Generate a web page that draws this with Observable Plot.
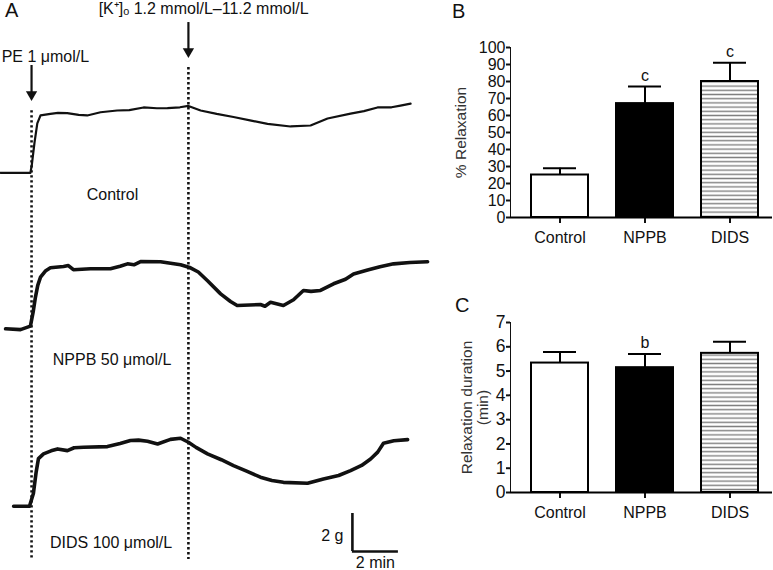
<!DOCTYPE html>
<html>
<head>
<meta charset="utf-8">
<script src="https://cdn.jsdelivr.net/npm/d3@7"></script>
<script src="https://cdn.jsdelivr.net/npm/@observablehq/plot@0.6"></script>
<style>
  body { margin: 0; background: #fff; }
  #wrap { position: relative; width: 773px; height: 570px; overflow: hidden; font-family: "Liberation Sans", Arial, sans-serif; color: #111; }
  .panel { position: absolute; }
  .plabel { position: absolute; font-size: 20px; line-height: 20px; }
  .bars [aria-label^="x-axis"] line, .bars [aria-label^="x-axis"] path,
  .bars [aria-label^="y-axis"] line, .bars [aria-label^="y-axis"] path,
  .bars [aria-label="frame"] line { stroke-width: 2px; stroke: #111; }
  .bars [aria-label^="x-axis"] text { font-size: 16px; fill: #111; }
  #panelB [aria-label^="y-axis"] text { font-size: 16px; fill: #111; }
  #panelC [aria-label^="y-axis"] text { font-size: 17.5px; fill: #111; }
</style>
</head>
<body>
<svg width="0" height="0" style="position:absolute">
  <defs>
    <pattern id="hstripes" patternUnits="userSpaceOnUse" width="8" height="4.2">
      <rect width="8" height="4.2" fill="#fff"></rect>
      <rect y="1.4" width="8" height="1.4" fill="#808080"></rect>
    </pattern>
  </defs>
</svg>
<div id="wrap">
  <div id="panelA" class="panel" style="left:0;top:0"></div>
  <div id="panelB" class="panel bars" style="left:430px;top:0"></div>
  <div id="panelC" class="panel bars" style="left:430px;top:290px"></div>
  <div class="plabel" style="left:5px;top:0px">A</div>
  <div class="plabel" style="left:452px;top:1px">B</div>
  <div class="plabel" style="left:455px;top:295px">C</div>
</div>
<script>
// ---------- Panel A: isometric tension traces (time in min, tension in g above each baseline) ----------
const controlTrace = [[0,0],[1.30,0],[1.36,0.4],[1.48,1.6],[1.60,2.6],[1.74,3.02],[2.17,3.10],[2.50,3.16],[2.90,3.14],[3.40,3.05],[3.77,3.02],[4.35,3.19],[5.07,3.28],[5.60,3.30],[6.22,3.44],[6.80,3.40],[7.26,3.41],[7.80,3.45],[8.17,3.52],[8.70,3.28],[9.40,3.10],[10.13,2.94],[10.90,2.75],[11.61,2.58],[12.61,2.44],[13.48,2.49],[14.22,2.86],[15.22,3.12],[15.80,3.25],[16.39,3.44],[17.00,3.45],[17.39,3.54],[17.83,3.64]];
const nppbTrace = [[0.22,0.01],[0.87,-0.03],[1.30,0.15],[1.42,0.9],[1.52,1.68],[1.62,2.3],[1.74,2.73],[1.95,3.05],[2.17,3.22],[2.74,3.29],[2.95,3.34],[3.17,3.12],[3.91,3.17],[4.78,3.17],[5.20,3.30],[5.52,3.43],[5.80,3.38],[6.09,3.55],[6.96,3.54],[7.83,3.38],[8.26,3.22],[8.60,3.00],[8.99,2.55],[9.57,1.85],[10.0,1.45],[10.29,1.24],[11.30,1.29],[11.50,1.20],[11.74,1.41],[12.30,1.24],[12.74,1.54],[13.17,2.03],[13.50,1.98],[13.91,2.03],[14.48,2.38],[15.00,2.62],[15.35,2.90],[15.96,3.11],[16.50,3.28],[17.09,3.43],[17.80,3.50],[18.57,3.54]];
const didsTrace = [[0.57,0],[1.26,0],[1.43,0.67],[1.55,1.8],[1.65,2.51],[1.87,2.76],[2.20,2.92],[2.48,3.02],[2.91,2.93],[3.20,3.08],[3.61,3.11],[4.65,3.14],[5.20,3.30],[5.65,3.46],[6.00,3.48],[6.39,3.42],[6.83,3.28],[7.39,3.52],[7.83,3.58],[8.17,3.37],[8.50,3.10],[9.00,2.76],[9.60,2.45],[10.13,2.14],[10.70,1.85],[11.30,1.53],[11.80,1.36],[12.30,1.26],[13.35,1.21],[14.04,1.44],[14.70,1.62],[15.22,1.88],[15.70,2.15],[16.09,2.49],[16.40,2.85],[16.65,3.32],[17.10,3.45],[17.70,3.51]];
const traceNames = ["Control", "NPPB 50 μmol/L", "DIDS 100 μmol/L"];
const traceBaselines = [20.93, 12.71, 3.38];          // g, vertical offset of each recording
const traceLabelAt = [[4.87, 19.79], [4.85, 11.11], [4.81, 1.45]]; // [min, g]
const eventNames = ["PE 1 μmol/L", "[K⁺]ₒ 1.2 mmol/L–11.2 mmol/L"];
const eventTimes = [1.35, 8.17];                       // min
const eventArrowTop = [26.58, 28.84];                  // g
const eventArrowTip = [24.74, 27.0];                   // g
const eventDotTop = [24.2, 26.47];                     // g
const eventDotBottom = 0.58;                           // g
const eventLabelAt = [[0.05, 27.05], [8.83, 29.55]];   // [min, g]
const scaleBarOrigin = [15.30, 1.0];                   // [min, g]
const scaleBarMin = 2, scaleBarG = 2;

// ---------- Panels B & C: bar data ----------
const groups = ["Control", "NPPB", "DIDS"];
const relaxMean = [25, 67, 80];
const relaxErr = [4, 10, 11];
const relaxSig = ["", "c", "c"];
const relaxTicks = [0,10,20,30,40,50,60,70,80,90,100];
const durMean = [5.33, 5.14, 5.73];
const durErr = [0.46, 0.56, 0.48];
const durSig = ["", "b", ""];
const durTicks = [0,1,2,3,4,5,6,7];

const FONT = "Liberation Sans, Arial, sans-serif";

function toRows(trace, i) {
  return trace.map(([t, g]) => ({t, g: g + traceBaselines[i]}));
}
const events = eventNames.map((name, i) => ({name, t: eventTimes[i], top: eventArrowTop[i], tip: eventArrowTip[i], dtop: eventDotTop[i], lx: eventLabelAt[i][0], ly: eventLabelAt[i][1]}));
const labels = traceNames.map((name, i) => ({name, t: traceLabelAt[i][0], g: traceLabelAt[i][1]}));

const A = Plot.plot({
  width: 440, height: 570,
  marginLeft: 0, marginRight: 0, marginTop: 0, marginBottom: 0,
  style: {fontFamily: FONT, fontSize: "16px", color: "#111", background: "transparent", overflow: "visible"},
  x: {domain: [0, 19.13], axis: null},
  y: {domain: [0, 30], axis: null},
  marks: [
    Plot.ruleX(events, {x: "t", y1: "dtop", y2: eventDotBottom, stroke: "#111", strokeWidth: 2.6, strokeDasharray: "2.4,2.6"}),
    Plot.line(toRows(controlTrace, 0), {x: "t", y: "g", stroke: "#111", strokeWidth: 2.2, strokeLinejoin: "round"}),
    Plot.line(toRows(nppbTrace, 1), {x: "t", y: "g", stroke: "#111", strokeWidth: 3.6, strokeLinejoin: "round"}),
    Plot.line(toRows(didsTrace, 2), {x: "t", y: "g", stroke: "#111", strokeWidth: 3.6, strokeLinejoin: "round"}),
    Plot.ruleX(events, {x: "t", y1: "top", y2: d => d.tip + 0.3, stroke: "#111", strokeWidth: 2.2}),
    Plot.dot(events, {x: "t", y: "tip", symbol: "triangle", rotate: 180, r: 4.2, fill: "#111", stroke: "none", dy: -6}),
    Plot.text(events.slice(0, 1), {x: "lx", y: "ly", text: "name", textAnchor: "start", fontSize: 16, fill: "#111"}),
    Plot.text(events.slice(1), {x: "lx", y: "ly", text: "name", textAnchor: "middle", fontSize: 16, fill: "#111"}),
    Plot.text(labels, {x: "t", y: "g", text: "name", fontSize: 16, fill: "#111"}),
    Plot.ruleX([scaleBarOrigin], {x: d => d[0], y1: d => d[1], y2: d => d[1] + scaleBarG, stroke: "#111", strokeWidth: 2.6}),
    Plot.ruleY([scaleBarOrigin], {y: d => d[1], x1: d => d[0], x2: d => d[0] + scaleBarMin, stroke: "#111", strokeWidth: 2.6}),
    Plot.text([scaleBarOrigin], {x: d => d[0], y: d => d[1] + scaleBarG / 2, text: () => `${scaleBarG} g`, textAnchor: "end", dx: -9, dy: 3, fontSize: 16, fill: "#111"}),
    Plot.text([scaleBarOrigin], {x: d => d[0] + scaleBarMin / 2, y: d => d[1], text: () => `${scaleBarMin} min`, dy: 11, fontSize: 16, fill: "#111"})
  ]
});
document.getElementById("panelA").appendChild(A);

const fillFor = {Control: "#fff", NPPB: "#000", DIDS: "url(#hstripes)"};

function barPanel({means, errs, sig, yMax, ticks, ylabel, height, marginTop, marginBottom, labelDx}) {
  const data = groups.map((g, i) => ({group: g, mean: means[i], top: means[i] + errs[i], sig: sig[i]}));
  return Plot.plot({
    width: 343, height,
    marginLeft: 80, marginRight: 1, marginTop, marginBottom,
    style: {fontFamily: FONT, fontSize: "16px", color: "#111", background: "transparent", overflow: "visible"},
    x: {domain: groups, range: [86, 342], paddingInner: 0.33, paddingOuter: 0.165, tickSize: 6, tickPadding: 8, label: null},
    y: {domain: [0, yMax], ticks, tickFormat: d3.format("d"), tickSize: 4, tickPadding: 1, label: null, line: true},
    marks: [
      Plot.ruleX(data, {x: "group", y1: "mean", y2: "top", stroke: "#000", strokeWidth: 2}),
      Plot.tickY(data, {x: "group", y: "top", insetLeft: 12, insetRight: 12, stroke: "#000", strokeWidth: 2}),
      ...groups.map(g => Plot.barY(data.filter(d => d.group === g), {x: "group", y: "mean", fill: fillFor[g], stroke: "#000", strokeWidth: 2})),
      Plot.ruleY([0], {stroke: "#000", strokeWidth: 2}),
      Plot.text(data.filter(d => d.sig), {x: "group", y: "top", text: "sig", dy: -11, fontSize: 16, fill: "#111"}),
      Plot.text([ylabel], {frameAnchor: "left", textAnchor: "middle", lineAnchor: "middle", text: d => d, rotate: -90, dx: -labelDx, fontSize: 15.5, lineHeight: 1.05, fill: "#333"})
    ]
  });
}

document.getElementById("panelB").appendChild(barPanel({
  means: relaxMean, errs: relaxErr, sig: relaxSig, yMax: 100, ticks: relaxTicks,
  ylabel: "% Relaxation", height: 290, marginTop: 47, marginBottom: 73, labelDx: 50
}));
document.getElementById("panelC").appendChild(barPanel({
  means: durMean, errs: durErr, sig: durSig, yMax: 7, ticks: durTicks,
  ylabel: "Relaxation duration\n(min)", height: 280, marginTop: 32, marginBottom: 78, labelDx: 36
}));
</script>
</body>
</html>
